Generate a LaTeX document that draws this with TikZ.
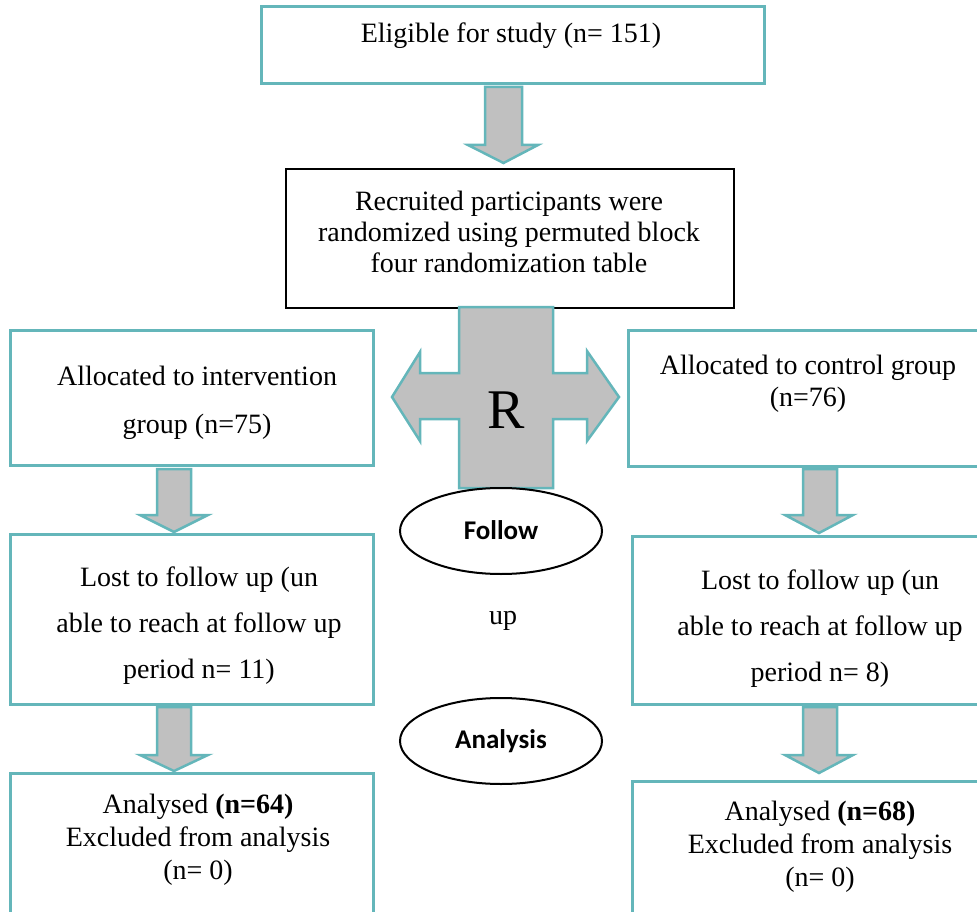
\documentclass[tikz,border=0pt]{standalone}
\usepackage{fontspec}
\setmainfont{Liberation Serif}
\newfontfamily\calib{Carlito}
\usetikzlibrary{shapes.geometric}
\definecolor{tealb}{RGB}{100,182,186}
\definecolor{arrfill}{RGB}{192,192,192}
\tikzset{
  box/.style={draw=tealb, line width=3pt, fill=white, rectangle, inner sep=0pt},
  blackbox/.style={draw=black, line width=2pt, fill=white, rectangle, inner sep=0pt},
  txt/.style={align=center, inner sep=0pt, font=\fontsize{28}{31}\selectfont},
  fat/.style={draw=tealb, line width=2.5pt, fill=arrfill, line join=miter},
  oval/.style={draw=black, line width=2pt, ellipse, fill=white, inner sep=0pt},
}
\begin{document}
\begin{tikzpicture}[x=1pt,y=-1pt]
\useasboundingbox (0,0) rectangle (977,912);
% boxes
\node[box, anchor=north west, minimum width=503, minimum height=77] (elig) at (260,5) {};
\node[blackbox, anchor=north west, minimum width=448, minimum height=139] (rand) at (285,168) {};
\node[box, anchor=north west, minimum width=363, minimum height=135] (alloL) at (9,329) {};
\node[box, anchor=north west, minimum width=380, minimum height=136] (alloR) at (627,329) {};
\node[box, anchor=north west, minimum width=363, minimum height=170] (lostL) at (9,533) {};
\node[box, anchor=north west, minimum width=380, minimum height=168] (lostR) at (631,535) {};
\node[box, anchor=north west, minimum width=363, minimum height=160] (anaL) at (9,772) {};
\node[box, anchor=north west, minimum width=380, minimum height=150] (anaR) at (631,780) {};
% top arrow
\draw[fat] (485,87) -- (522,87) -- (522,145) -- (538,145) -- (503.5,163) -- (468,145) -- (485,145) -- cycle;
% cross
\draw[fat] (459,307) -- (553,307) -- (553,373) -- (587,373) -- (587,351) -- (619,397) -- (587,441) -- (587,419) -- (553,419) -- (553,488) -- (459,488) -- (459,419) -- (420,419) -- (420,441) -- (392,397) -- (420,352) -- (420,373) -- (459,373) -- cycle;
\node[font=\fontsize{56}{56}\selectfont, inner sep=0pt] (R) at (506,410) {R};
% left arrows
\draw[fat] (157,469) -- (191,469) -- (191,515) -- (208,515) -- (174,532) -- (140,515) -- (157,515) -- cycle;
\draw[fat] (157,707) -- (191,707) -- (191,755) -- (208,755) -- (174,771) -- (140,755) -- (157,755) -- cycle;
% right arrows
\draw[fat] (803,469) -- (837,469) -- (837,515) -- (853,515) -- (819,533) -- (785,515) -- (803,515) -- cycle;
\draw[fat] (803,707) -- (837,707) -- (837,755) -- (853,755) -- (819,773) -- (785,755) -- (803,755) -- cycle;
% ovals
\node[oval, minimum width=202, minimum height=86] (fol) at (501,531) {};
\node[font=\calib\bfseries\fontsize{27}{27}\selectfont, inner sep=0pt] (folt) at (501,530) {Follow};
\node[oval, minimum width=202, minimum height=86] (ana) at (501,741) {};
\node[font=\calib\bfseries\fontsize{27}{27}\selectfont, inner sep=0pt] (anat) at (501,741) {Analysis};
\node[txt] (up) at (503,621) {up};
% texts
\node[txt] (eligt) at (511,36) {Eligible for study (n= 151)};
\node[txt] (randt) at (509,232) {Recruited participants were\\randomized using permuted block\\four randomization table};
\node[txt, font=\fontsize{28}{48}\selectfont] (alloLt) at (197,403) {Allocated to intervention\\group (n=75)};
\node[txt, font=\fontsize{28}{32}\selectfont] (alloRt) at (808,384) {Allocated to control group\\(n=76)};
\node[txt, font=\fontsize{28}{46}\selectfont] (lostLt) at (199,626) {Lost to follow up (un\\able to reach at follow up\\period n= 11)};
\node[txt, font=\fontsize{28}{46}\selectfont] (lostRt) at (820,629) {Lost to follow up (un\\able to reach at follow up\\period n= 8)};
\node[txt, font=\fontsize{28}{33}\selectfont] (anaLt) at (198,840) {Analysed \textbf{(n=64)}\\Excluded from analysis\\(n= 0)};
\node[txt, font=\fontsize{28}{33}\selectfont] (anaRt) at (820,847) {Analysed \textbf{(n=68)}\\Excluded from analysis\\(n= 0)};
\end{tikzpicture}
\end{document}
